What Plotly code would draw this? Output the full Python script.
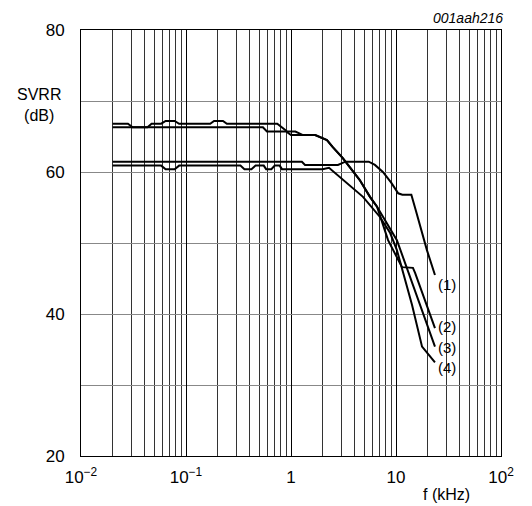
import plotly.graph_objects as go

# Frequency (kHz) and SVRR (dB) for the four curves
f1 = [0.02, 1.27, 1.36, 2.8, 3.3, 5.5, 6.3, 7.5, 9.0, 10.5, 11.5, 14.0, 15.5, 19.7, 23.5]
s1 = [61.45, 61.45, 61.0, 61.0, 61.45, 61.45, 61.0, 60.0, 58.5, 57.0, 56.8, 56.8, 54.5, 49.0, 45.5]

f2 = [0.02, 0.028, 0.031, 0.043, 0.047, 0.058, 0.064, 0.078, 0.086, 0.17, 0.185, 0.225, 0.245,
      0.74, 0.92, 1.1, 1.3, 1.7, 2.2, 2.5, 3.1, 3.65, 4.5, 5.65, 6.6, 8.4, 11.4, 14.5, 15.2, 23.5]
s2 = [66.8, 66.8, 66.3, 66.3, 66.8, 66.8, 67.2, 67.2, 66.8, 66.8, 67.2, 67.2, 66.8,
      66.8, 65.7, 65.7, 65.2, 65.2, 64.5, 63.5, 62.0, 60.7, 58.9, 56.5, 55.1, 50.4, 46.6, 46.5, 45.8, 38.0]

f3 = [0.02, 0.54, 0.59, 0.9, 1.0, 1.7, 2.2, 2.5, 3.1, 3.65, 4.5, 5.65, 6.6, 10.2, 14.5, 23.5]
s3 = [66.3, 66.3, 65.7, 65.7, 65.2, 65.2, 64.5, 63.5, 62.0, 60.7, 58.9, 56.5, 55.1, 50.4, 44.1, 35.4]

f4 = [0.02, 0.058, 0.064, 0.078, 0.086, 0.33, 0.36, 0.42, 0.46, 0.55, 0.58, 0.65, 0.70, 0.78,
      0.82, 2.0, 2.3, 3.4, 4.85, 7.0, 8.8, 10.2, 14.2, 17.7, 23.5]
s4 = [60.9, 60.9, 60.4, 60.4, 60.9, 60.9, 60.4, 60.4, 60.9, 60.9, 60.4, 60.4, 60.9, 60.9,
      60.4, 60.4, 60.6, 58.5, 56.5, 53.7, 51.4, 49.0, 41.3, 35.4, 33.2]

curve_labels = ["(1)", "(2)", "(3)", "(4)"]
label_y = [44.2, 38.2, 35.35, 32.5]

x_tickvals = [0.01, 0.1, 1, 10, 100]
x_ticktext = ["10<sup>−2</sup>", "10<sup>−1</sup>", "1", "10", "10<sup>2</sup>"]
x_minor = [m * 10 ** e for e in (-2, -1, 0, 1) for m in range(2, 10)]
y_tickvals = [20, 40, 60, 80]

FONT = "Liberation Sans, Arial, sans-serif"

fig = go.Figure()
for fx, sy in [(f1, s1), (f2, s2), (f3, s3), (f4, s4)]:
    fig.add_trace(go.Scatter(x=fx, y=sy, mode="lines",
                             line=dict(color="black", width=2), showlegend=False))

for lab, ly in zip(curve_labels, label_y):
    fig.add_annotation(x=1.385, y=ly, xref="x", yref="y", text=lab, showarrow=False,
                       xanchor="left", yanchor="middle",
                       font=dict(size=15, color="black", family=FONT))

fig.add_annotation(x=-0.1, y=0.825, xref="paper", yref="paper", text="SVRR<br>(dB)",
                   showarrow=False, xanchor="center", yanchor="middle", align="center",
                   font=dict(size=16, color="black", family=FONT))
fig.add_annotation(x=1.01, y=1.005, xref="paper", yref="paper", text="<i>001aah216</i>",
                   showarrow=False, xanchor="right", yanchor="bottom",
                   font=dict(size=14, color="black", family=FONT))
fig.add_annotation(x=0.87, y=-0.09, xref="paper", yref="paper", text="f (kHz)",
                   showarrow=False, xanchor="center", yanchor="middle",
                   font=dict(size=16, color="black", family=FONT))

fig.update_xaxes(type="log", range=[-2, 2], tickmode="array", tickvals=x_tickvals,
                 ticktext=x_ticktext, showgrid=True, gridcolor="black", gridwidth=1,
                 minor=dict(tickmode="array", tickvals=x_minor, showgrid=True,
                            gridcolor="#333", gridwidth=1, ticks=""),
                 showline=True, linecolor="black", linewidth=1, mirror=True,
                 ticks="", ticklabelstandoff=6, zeroline=False,
                 tickfont=dict(size=17, color="black", family=FONT))
fig.update_yaxes(range=[20, 80], tickmode="array", tickvals=y_tickvals,
                 showgrid=True, gridcolor="#888", gridwidth=1,
                 minor=dict(dtick=10, showgrid=True, gridcolor="#888", gridwidth=1, ticks=""),
                 showline=True, linecolor="black", linewidth=1, mirror=True,
                 ticks="", ticklabelstandoff=12, zeroline=False,
                 tickfont=dict(size=17, color="black", family=FONT))

fig.update_layout(width=532, height=506, margin=dict(l=81, r=31, t=30, b=50),
                  paper_bgcolor="white", plot_bgcolor="white",
                  font=dict(family=FONT, color="black"))

fig.write_html("out.html", config={"displayModeBar": False},
               post_script="document.body.style.margin='0';document.body.style.overflow='hidden';")
